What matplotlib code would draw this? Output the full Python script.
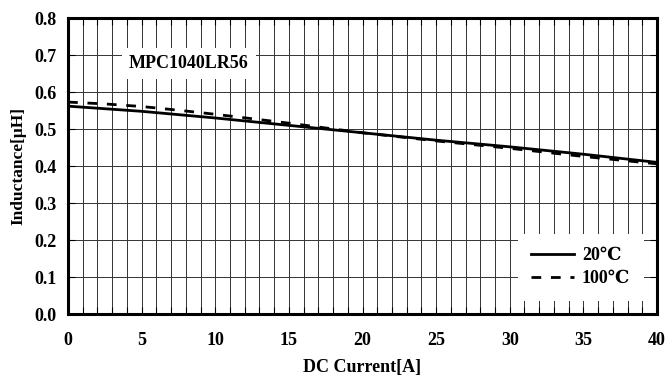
import matplotlib.pyplot as plt
from matplotlib.ticker import MultipleLocator

plt.rcParams['font.family'] = ['Liberation Serif', 'DejaVu Serif']
plt.rcParams['font.weight'] = 'bold'

current_20 = [0, 5, 10, 15, 20, 25, 30, 35, 40]
induct_20 = [0.562, 0.548, 0.530, 0.510, 0.490, 0.470, 0.452, 0.432, 0.410]

current_100 = [0, 2.5, 5, 7.5, 10, 12.5, 15, 17.5, 20, 25, 30, 35, 40]
induct_100 = [0.573, 0.568, 0.561, 0.551, 0.540, 0.528, 0.516, 0.503, 0.490,
              0.468, 0.448, 0.426, 0.406]

part_name = "MPC1040LR56"
legend_labels = ["20\u2103", "100\u2103"]

fig = plt.figure(figsize=(6.67, 3.77), dpi=100)
ax = fig.add_axes([0.102, 0.167, 0.883, 0.785])

ax.plot(current_20, induct_20, color='black', lw=2.0, label=legend_labels[0], zorder=3)
ax.plot(current_100, induct_100, color='black', lw=2.0, ls=(0, (3.5, 3.5)),
        label=legend_labels[1], zorder=3)

ax.set_xlim(0, 40)
ax.set_ylim(0, 0.8)
ax.xaxis.set_major_locator(MultipleLocator(5))
ax.xaxis.set_minor_locator(MultipleLocator(1))
ax.yaxis.set_major_locator(MultipleLocator(0.1))
ax.yaxis.set_major_formatter(plt.FormatStrFormatter('%.1f'))

ax.grid(which='both', axis='x', color='#333333', lw=0.7, zorder=1)
ax.grid(which='major', axis='y', color='#333333', lw=0.7, zorder=1)
ax.set_axisbelow(True)

ax.tick_params(which='both', direction='in', top=True, right=True, length=5,
               width=0.8, labelsize=13)
ax.tick_params(axis='x', which='both', pad=13)
ax.tick_params(axis='y', which='both', pad=8)
for lab in ax.get_xticklabels() + ax.get_yticklabels():
    lab.set_fontweight('bold')
for sp in ax.spines.values():
    sp.set_linewidth(2.2)

ax.set_xlabel("DC Current[A]", fontsize=13, fontweight='bold', labelpad=7)
ax.set_ylabel("Inductance[\u03bcH]", fontsize=12.5, fontweight='bold', labelpad=6)

ax.text(8.2, 0.678, part_name, ha='center', va='center', fontsize=13,
        fontweight='bold', zorder=2,
        bbox=dict(facecolor='white', edgecolor='none', pad=5))

leg = ax.legend(loc='lower right', bbox_to_anchor=(0.993, 0.015), frameon=True,
                fancybox=False, framealpha=1, edgecolor='none', facecolor='white',
                handlelength=2.35, handletextpad=0.45, borderpad=0.75,
                labelspacing=0.32, prop={'weight': 'bold', 'size': 13})
leg.set_zorder(2)

fig.savefig("out.png", dpi=100)
